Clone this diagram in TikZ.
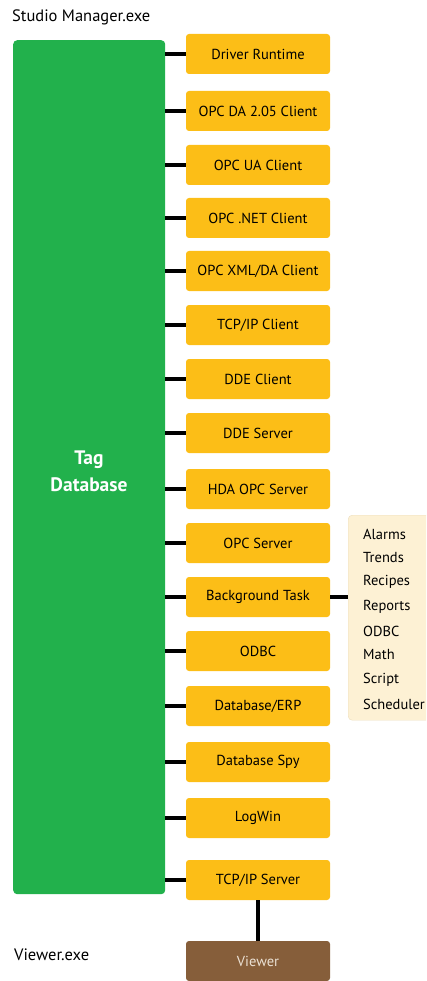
\documentclass[tikz,border=0pt]{standalone}
\usepackage{fontspec}
\setmainfont{PT Sans}
\definecolor{tagGreen}{RGB}{34,177,76}
\definecolor{modYellow}{RGB}{252,190,23}
\definecolor{viewBrown}{RGB}{134,94,58}
\definecolor{taskCream}{RGB}{253,241,212}
\definecolor{taskEdge}{RGB}{236,222,190}
\tikzset{
  module/.style={fill=modYellow, rounded corners=3, minimum width=144, minimum height=40, inner sep=0, font=\fontsize{14.5}{16}\selectfont},
  link/.style={line width=4, draw=black},
  tasktxt/.style={anchor=west, inner sep=0, font=\fontsize{14.5}{16}\selectfont}
}
\begin{document}
\begin{tikzpicture}[x=1pt,y=1pt,yscale=-1,xscale=1]
\useasboundingbox (0,0) rectangle (426,981);
\clip (0,0) rectangle (426,981);

%Titles
\node[anchor=west, inner sep=0, font=\fontsize{16.5}{18}\selectfont] (studio) at (12,17) {Studio Manager.exe};
\node[anchor=west, inner sep=0, font=\fontsize{16.5}{18}\selectfont] (viewexe) at (14,955) {Viewer.exe};

%Tag database
\node[fill=tagGreen, rounded corners=4, minimum width=152, minimum height=854, anchor=north west, inner sep=0] (tagdb) at (13,40) {};
\node[text=white, align=center, font=\bfseries\fontsize{19.5}{27}\selectfont] (tagtxt) at (89,471) {Tag\\Database};

%Modules
\foreach \y/\name/\txt in {
  54/drv/{Driver Runtime},
  111/opcda/{OPC DA 2.05 Client},
  165/opcua/{OPC UA Client},
  218/opcnet/{OPC .NET Client},
  271/opcxml/{OPC XML/DA Client},
  325/tcpc/{TCP/IP Client},
  379/ddec/{DDE Client},
  433/ddes/{DDE Server},
  489/hda/{HDA OPC Server},
  543/opcs/{OPC Server},
  597/bgtask/{Background Task},
  651/odbc/{ODBC},
  706/erp/{Database/ERP},
  762/spy/{Database Spy},
  818/logwin/{LogWin},
  880/tcps/{TCP/IP Server}}
{
  \node[module] (\name) at (258,\y) {\txt};
  \draw[link] (tagdb.east |- \name) -- (\name.west);
}

%Background task list
\node[draw=taskEdge, fill=taskCream, rounded corners=4, minimum width=100, minimum height=205, anchor=north west, inner sep=0] (tasks) at (348,515) {};
\draw[link] (bgtask.east) -- (tasks.west |- bgtask);
\foreach \y/\txt [count=\i] in {534/Alarms, 558/Trends, 582/Recipes, 607/Reports, 631/ODBC, 655/Math, 680/Script, 704/Scheduler}
  \node[tasktxt] (task\i) at (363,\y) {\txt};

%Viewer
\node[module, fill=viewBrown, text={rgb,255:red,235;green,225;blue,212}] (viewer) at (258,961) {Viewer};
\draw[link] (tcps.south) -- (viewer.north);
\end{tikzpicture}
\end{document}
